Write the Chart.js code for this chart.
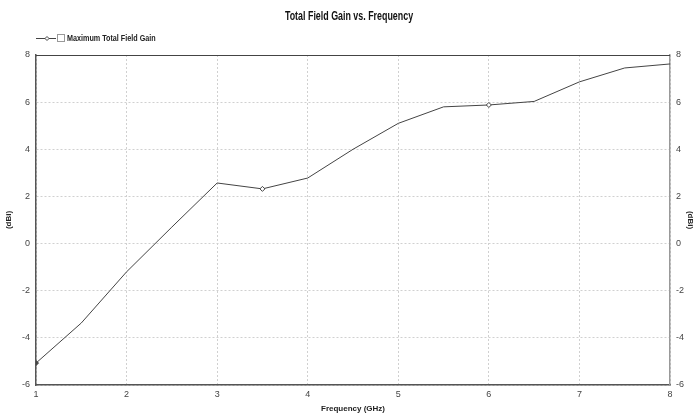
<!DOCTYPE html>
<html lang="en">
<head>
    <meta charset="UTF-8">
    <title>Total Field Gain vs. Frequency</title>
    <script src="https://cdn.jsdelivr.net/npm/chart.js"></script>
    <style>
        html, body { margin: 0; padding: 0; background: #fff; }
        #wrap { width: 695px; height: 414px; position: relative; }
    </style>
</head>
<body>
    <div id="wrap"><canvas id="gainChart"></canvas></div>
    <script>
        const frequency = [1, 1.5, 2, 2.5, 3, 3.5, 4, 4.5, 5, 5.5, 6, 6.5, 7, 7.5, 8];
        const gain = [-5.07, -3.37, -1.2, 0.7, 2.57, 2.32, 2.78, 4.0, 5.1, 5.8, 5.88, 6.03, 6.86, 7.45, 7.62];
        const markerEvery = 5;
        const yTicks = [-6, -4, -2, 0, 2, 4, 6, 8];
        const fontFam = "'Liberation Sans', Arial, sans-serif";

        // title + legend drawn by hand, narrow like the original
        const headerPlugin = {
            id: 'header',
            afterDraw(chart) {
                const ctx = chart.ctx;
                const a = chart.chartArea;
                ctx.save();
                ctx.fillStyle = '#111';
                ctx.font = 'bold 12px ' + fontFam;
                ctx.textAlign = 'center';
                ctx.textBaseline = 'middle';
                ctx.save();
                ctx.translate(349, 17);
                ctx.scale(0.74, 1);
                ctx.fillText('Total Field Gain vs. Frequency', 0, 0);
                ctx.restore();

                ctx.strokeStyle = '#444';
                ctx.lineWidth = 1;
                ctx.beginPath();
                ctx.moveTo(36, 38.5); ctx.lineTo(56, 38.5);
                ctx.stroke();
                ctx.beginPath();
                ctx.moveTo(47, 36.5); ctx.lineTo(49, 38.5); ctx.lineTo(47, 40.5); ctx.lineTo(45, 38.5); ctx.closePath();
                ctx.fillStyle = '#fff'; ctx.fill(); ctx.stroke();
                ctx.strokeStyle = '#999';
                ctx.strokeRect(57.5, 34.5, 7, 7);
                ctx.fillStyle = '#222';
                ctx.font = 'bold 9px ' + fontFam;
                ctx.textAlign = 'left';
                ctx.save();
                ctx.translate(67, 39);
                ctx.scale(0.8, 1);
                ctx.fillText('Maximum Total Field Gain', 0, 0);
                ctx.restore();

                ctx.strokeStyle = '#444';
                ctx.beginPath();
                ctx.moveTo(a.left, a.top + 0.5); ctx.lineTo(a.right, a.top + 0.5);
                ctx.stroke();
                ctx.restore();
            }
        };

        const ctx = document.getElementById('gainChart').getContext('2d');
        new Chart(ctx, {
            type: 'line',
            data: {
                datasets: [{
                    label: 'Maximum Total Field Gain',
                    data: frequency.map((f, i) => ({ x: f, y: gain[i] })),
                    borderColor: '#444',
                    borderWidth: 1,
                    pointStyle: 'rectRot',
                    pointRadius: frequency.map((f, i) => i % markerEvery === 0 ? 2.5 : 0),
                    pointBackgroundColor: frequency.map((f, i) => i === 0 ? '#444' : '#fff'),
                    pointBorderColor: '#444',
                    pointBorderWidth: 1,
                    tension: 0,
                    yAxisID: 'y'
                }]
            },
            options: {
                responsive: true,
                maintainAspectRatio: false,
                animation: false,
                layout: { padding: { top: 55, left: 0, right: 0, bottom: 0 } },
                plugins: {
                    legend: { display: false },
                    title: { display: false },
                    tooltip: { enabled: false }
                },
                scales: {
                    x: {
                        type: 'linear',
                        min: 1,
                        max: 8,
                        ticks: { stepSize: 1, color: '#444', font: { size: 9, family: fontFam }, padding: 4 },
                        grid: { color: '#d0d0d0', drawTicks: false },
                        border: { color: '#555', width: 1.5, dash: [2, 2] },
                        title: { display: true, text: 'Frequency (GHz)', color: '#222', font: { size: 8, weight: 'bold', family: fontFam }, padding: { top: 1, bottom: 0 } },
                        afterFit(s) { s.height = 29; }
                    },
                    y: {
                        position: 'left',
                        min: -6,
                        max: 8,
                        afterBuildTicks(s) { s.ticks = yTicks.map(v => ({ value: v })); },
                        ticks: { color: '#444', font: { size: 9, family: fontFam }, padding: 6 },
                        grid: { color: '#d0d0d0', drawTicks: false },
                        border: { color: '#555', width: 1.5, dash: [2, 2] },
                        title: { display: true, text: '(dBi)', color: '#222', font: { size: 8, weight: 'bold', family: fontFam }, padding: { top: 4, bottom: 0 } },
                        afterFit(s) { s.width = 36; }
                    },
                    y2: {
                        position: 'right',
                        min: -6,
                        max: 8,
                        afterBuildTicks(s) { s.ticks = yTicks.map(v => ({ value: v })); },
                        ticks: { color: '#444', font: { size: 9, family: fontFam }, padding: 6 },
                        grid: { display: false, drawTicks: false },
                        border: { color: '#999', width: 1.5 },
                        title: { display: true, text: '(dBi)', color: '#222', font: { size: 8, weight: 'bold', family: fontFam }, padding: { top: 0, bottom: 0 } },
                        afterFit(s) { s.width = 25; }
                    }
                }
            },
            plugins: [headerPlugin]
        });
    </script>
</body>
</html>
